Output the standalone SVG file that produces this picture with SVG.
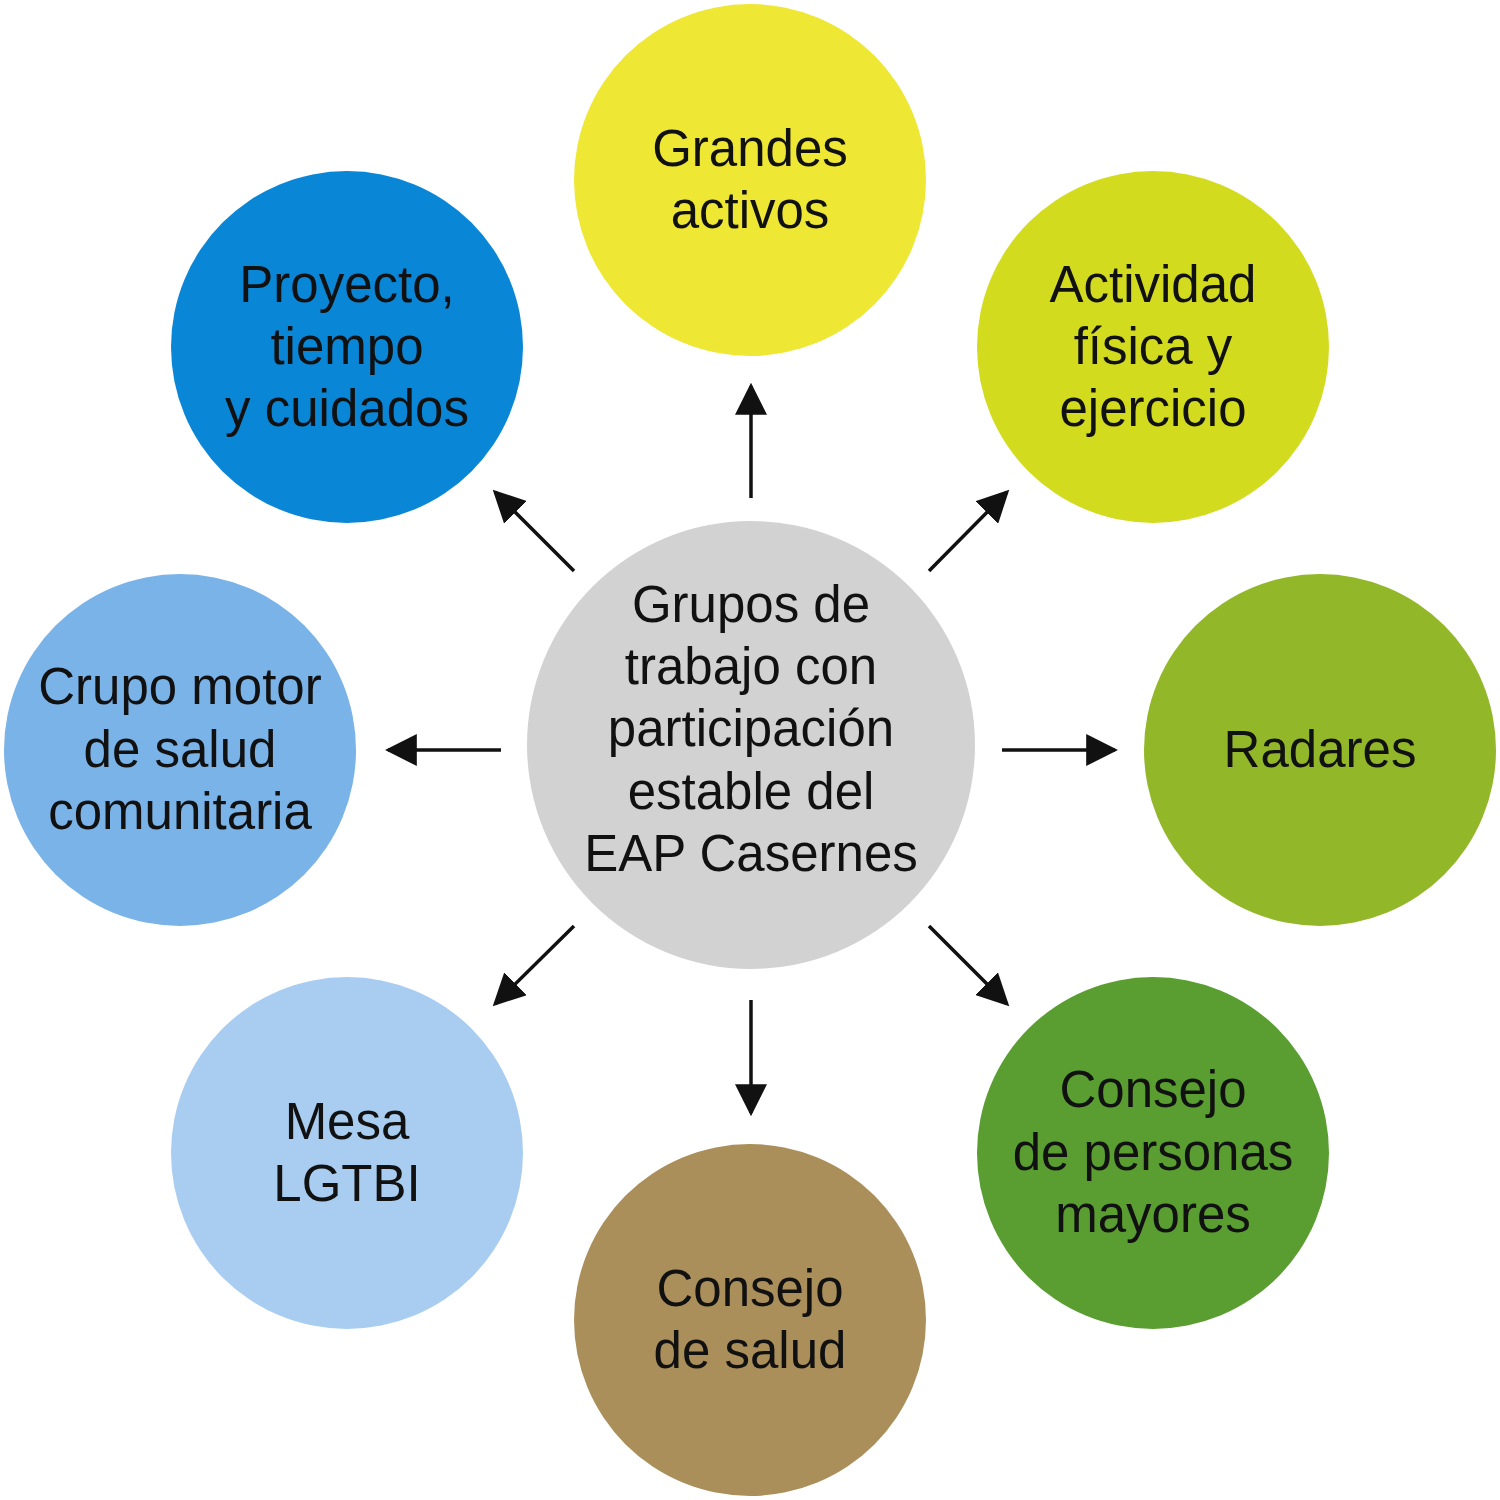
<svg xmlns="http://www.w3.org/2000/svg" width="1500" height="1500" viewBox="0 0 1500 1500">
<style>
text{font-family:"Liberation Sans",Arial,sans-serif;font-size:51px;fill:#111;text-anchor:middle}
.c{stroke:none}
.a{stroke:#111;stroke-width:3.5;fill:none;marker-end:url(#ah)}
</style>
<defs>
<marker id="ah" viewBox="0 0 10 10" refX="9" refY="5" markerUnits="userSpaceOnUse" markerWidth="32" markerHeight="32" orient="auto">
<path d="M0,0 L10,5 L0,10 z" fill="#111"/>
</marker>
</defs>
<rect width="1500" height="1500" fill="#fff"/>
<g id="connectors">
<line class="a" x1="751" y1="498" x2="751" y2="386"/>
<line class="a" x1="929" y1="571" x2="1007" y2="492"/>
<line class="a" x1="1002" y1="750" x2="1115" y2="750"/>
<line class="a" x1="929" y1="926" x2="1007" y2="1004"/>
<line class="a" x1="751" y1="1000" x2="751" y2="1113"/>
<line class="a" x1="574" y1="926" x2="495" y2="1004"/>
<line class="a" x1="501" y1="750" x2="388" y2="750"/>
<line class="a" x1="574" y1="571" x2="495" y2="492"/>
</g>
<g id="center">
<circle class="c" cx="751" cy="745" r="224" fill="#D2D2D2"/>
<text x="751" y="622">Grupos de</text>
<text x="751" y="684">trabajo con</text>
<text x="751" y="746">participación</text>
<text x="751" y="809">estable del</text>
<text x="751" y="871">EAP Casernes</text>
</g>
<g id="grandes">
<circle class="c" cx="750" cy="180" r="176" fill="#EEE733"/>
<text x="750" y="166">Grandes</text>
<text x="750" y="228">activos</text>
</g>
<g id="actividad">
<circle class="c" cx="1153" cy="347" r="176" fill="#D3DB1E"/>
<text x="1153" y="302">Actividad</text>
<text x="1153" y="364">física y</text>
<text x="1153" y="426">ejercicio</text>
</g>
<g id="radares">
<circle class="c" cx="1320" cy="750" r="176" fill="#92B82A"/>
<text x="1320" y="767">Radares</text>
</g>
<g id="personas">
<circle class="c" cx="1153" cy="1153" r="176" fill="#5A9D30"/>
<text x="1153" y="1107">Consejo</text>
<text x="1153" y="1170">de personas</text>
<text x="1153" y="1232">mayores</text>
</g>
<g id="salud">
<circle class="c" cx="750" cy="1320" r="176" fill="#AA8F5B"/>
<text x="750" y="1306">Consejo</text>
<text x="750" y="1368">de salud</text>
</g>
<g id="mesa">
<circle class="c" cx="347" cy="1153" r="176" fill="#A8CDF0"/>
<text x="347" y="1139">Mesa</text>
<text x="347" y="1201">LGTBI</text>
</g>
<g id="crupo">
<circle class="c" cx="180" cy="750" r="176" fill="#7AB3E8"/>
<text x="180" y="704">Crupo motor</text>
<text x="180" y="767">de salud</text>
<text x="180" y="829">comunitaria</text>
</g>
<g id="proyecto">
<circle class="c" cx="347" cy="347" r="176" fill="#0A86D6"/>
<text x="347" y="302">Proyecto,</text>
<text x="347" y="364">tiempo</text>
<text x="347" y="426">y cuidados</text>
</g>
</svg>
